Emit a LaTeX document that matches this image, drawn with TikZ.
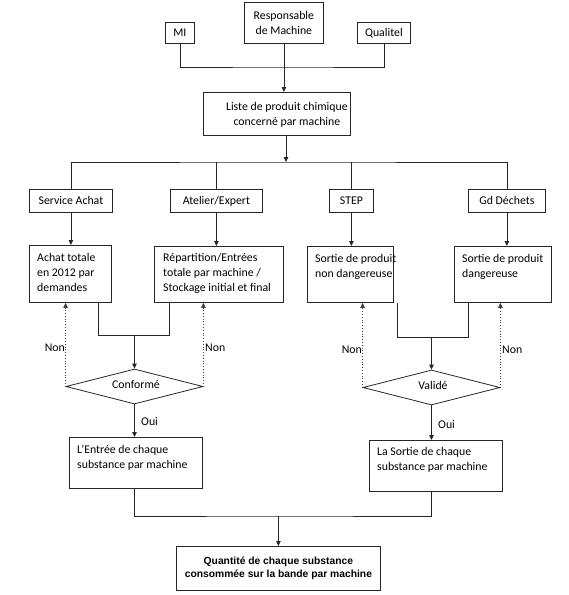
\documentclass[tikz,border=0pt]{standalone}
\usepackage{fontspec}
\setmainfont{Carlito}
\newfontfamily\boldarial{Liberation Sans}
\usetikzlibrary{arrows.meta,shapes.geometric,calc}
\begin{document}
\begin{tikzpicture}[x=1pt,y=-1pt,
  every node/.style={font=\fontsize{11.8}{15}\selectfont},
  box/.style={draw=black!85, line width=0.8pt, anchor=north west, inner sep=0pt, align=center},
  txt/.style={anchor=north west, inner sep=0pt, align=left},
  lbl/.style={inner sep=0pt},
  con/.style={draw=black!85, line width=0.8pt},
  arr/.style={con, -{Triangle[length=5pt,width=4.5pt]}},
  dot/.style={draw=black!75, line width=0.8pt, dotted, -{Triangle[length=5pt,width=4.5pt]}},
  dia/.style={draw=black!85, line width=0.8pt, shape=diamond, aspect=3.914, minimum width=137pt, minimum height=35pt, inner sep=0pt},
]
\useasboundingbox (0,0) rectangle (569,595);
% top row
\node[box, minimum width=29pt, minimum height=21pt] (mi) at (165,22) {MI};
\node[box, minimum width=79pt, minimum height=41pt] (resp) at (244,2) {Responsable\\de Machine};
\node[box, minimum width=53pt, minimum height=21pt] (qual) at (357,22) {Qualitel};
\node[box, minimum width=147pt, minimum height=43pt] (list) at (203,92) {};
\node[lbl, align=center] (listt) at ($(list.center)+(10,1)$) {Liste de produit chimique\\concerné par machine};
% second row
\node[box, minimum width=83pt, minimum height=23pt] (sa) at (29,189) {Service Achat};
\node[box, minimum width=92pt, minimum height=23pt] (ae) at (170,189) {Atelier/Expert};
\node[box, minimum width=44pt, minimum height=23pt] (step) at (329,189) {STEP};
\node[box, minimum width=77pt, minimum height=23pt] (gd) at (468,189) {Gd Déchets};
% third row
\node[box, minimum width=82pt, minimum height=57pt] (achat) at (29,245) {};
\node[txt] (achatt) at ($(achat.north west)+(8,8)$) {Achat totale\\en 2012 par\\demandes};
\node[box, minimum width=129pt, minimum height=56pt] (rep) at (154,246) {};
\node[txt] (rept) at ($(rep.north west)+(9,7)$) {Répartition/Entrées\\totale par machine /\\Stockage initial et final};
\node[box, minimum width=86pt, minimum height=56pt] (snd) at (307,246) {};
\node[txt] (sndt) at ($(snd.north west)+(8,8)$) {Sortie de produit\\non dangereuse};
\node[box, minimum width=97pt, minimum height=56pt] (sd) at (454,246) {};
\node[txt] (sdt) at ($(sd.north west)+(8,8)$) {Sortie de produit\\dangereuse};
% decisions
\node[dia] (conf) at (134.5,386.5) {};
\node[lbl] (conft) at (136,384.5) {Conformé};
\node[dia] (val) at (431.5,387.5) {};
\node[lbl] (valt) at (433,385.5) {Validé};
% results
\node[box, minimum width=133pt, minimum height=51pt] (entree) at (69,437) {};
\node[txt] (entreet) at ($(entree.north west)+(8,8)$) {L’Entrée de chaque\\substance par machine};
\node[box, minimum width=133pt, minimum height=51pt] (lasortie) at (369,440) {};
\node[txt] (lasortiet) at ($(lasortie.north west)+(8,7)$) {La Sortie de chaque\\substance par machine};
\node[box, minimum width=204pt, minimum height=44pt, font=\boldarial\bfseries\fontsize{10.3}{13.3}\selectfont] (final) at (176,546) {Quantité de chaque substance\\consommée sur la bande par machine};
% labels
\node[lbl, anchor=east] (non1) at (65,347.5) {Non};
\node[lbl, anchor=west] (non2) at (205,347.5) {Non};
\node[lbl, anchor=east] (non3) at (362,350) {Non};
\node[lbl, anchor=west] (non4) at (502,350) {Non};
\node[lbl, anchor=west] (oui1) at (141,421.5) {Oui};
\node[lbl, anchor=west] (oui2) at (438,424.5) {Oui};
% connectors top
\coordinate (j1) at (284,67);
\draw[con] (mi.south) |- (j1) -| (qual.south);
\draw[arr] (resp.south) -- (resp.south |- list.north);
\coordinate (j2) at (286,162);
\draw[arr] (j2 |- list.south) -- (j2);
\draw[con] (sa.north) |- (j2) -| (gd.north);
\draw[con] (ae.north) -- (ae.north |- j2);
\draw[con] (step.north) -- (step.north |- j2);
\draw[arr] (sa.south) -- (sa.south |- achat.north);
\draw[arr] (ae.south) -- (ae.south |- rep.north);
\draw[arr] (step.south) -- (step.south |- snd.north);
\draw[arr] (gd.south) -- (gd.south |- sd.north);
% left collection
\coordinate (c1a) at (98,335);
\coordinate (c1b) at (169,335);
\draw[con] (c1a |- achat.south) -- (c1a) -- (c1b) -- (c1b |- rep.south);
\draw[arr] (conf.north |- c1a) -- (conf.north);
\draw[dot] (conf.west) -- (conf.west |- achat.south);
\draw[dot] (conf.east) -- (conf.east |- rep.south);
\draw[arr] (conf.south) -- (conf.south |- entree.north);
% right collection
\coordinate (c2a) at (397,337);
\coordinate (c2b) at (468,337);
\draw[con] (c2a |- snd.south) -- (c2a) -- (c2b) -- (c2b |- sd.south);
\draw[arr] (val.north |- c2a) -- (val.north);
\draw[dot] (val.west) -- (val.west |- snd.south);
\draw[dot] (val.east) -- (val.east |- sd.south);
\draw[arr] (val.south) -- (val.south |- lasortie.north);
% final
\coordinate (j3) at (277,516);
\draw[con] (conf.south |- entree.south) |- (j3) -| (val.south |- lasortie.south);
\draw[arr] (final.north |- j3) -- (final.north);
\end{tikzpicture}
\end{document}
